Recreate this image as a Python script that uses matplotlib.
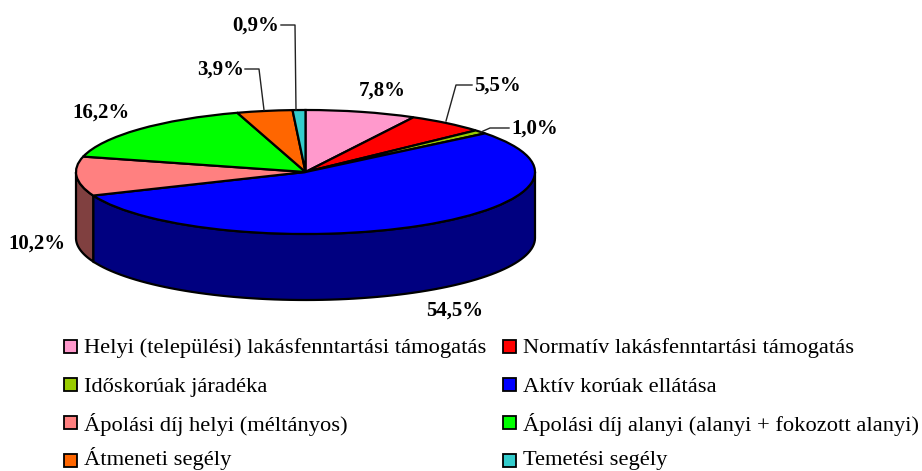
import numpy as np
import matplotlib
matplotlib.use("Agg")
import matplotlib.pyplot as plt
from matplotlib.lines import Line2D
from matplotlib.patches import Rectangle

plt.rcParams['font.family'] = ['Liberation Serif', 'DejaVu Serif']

categories = [
    "Helyi (települési) lakásfenntartási támogatás",
    "Normatív lakásfenntartási támogatás",
    "Időskorúak járadéka",
    "Aktív korúak ellátása",
    "Ápolási díj helyi (méltányos)",
    "Ápolási díj alanyi (alanyi + fokozott alanyi)",
    "Átmeneti segély",
    "Temetési segély",
]
values = [7.8, 5.5, 1.0, 54.5, 10.2, 16.2, 3.9, 0.9]
labels = ["7,8%", "5,5%", "1,0%", "54,5%", "10,2%", "16,2%", "3,9%", "0,9%"]
colors = ["#FF99CC", "#FF0000", "#99CC00", "#0000FF", "#FF8080", "#00FF00", "#FF6600", "#33CCCC"]
wall_colors = ["#804D66", "#800000", "#4D6600", "#000080", "#804040", "#008000", "#803300", "#1A6666"]

W, H = 922, 471
fig = plt.figure(figsize=(W / 100, H / 100), dpi=100)

# pie top face, in pixels: x 76-535, y 110-234
ax = fig.add_axes([76 / W, 1 - 234 / H, 459 / W, 124 / H])
ax.pie(values, colors=colors, startangle=90, counterclock=False, radius=1,
       wedgeprops=dict(edgecolor="black", linewidth=1.6, clip_on=False, zorder=3))
ax.set_aspect("auto")
ax.set_xlim(-1, 1)
ax.set_ylim(-1, 1)

# side wall, only the part facing the viewer (90-270 deg clockwise from the top)
depth = 66 / 62
edges = np.cumsum([0] + values) * 3.6
for i in range(len(values)):
    a = max(edges[i], 90)
    b = min(edges[i + 1], 270)
    if b <= a:
        continue
    t = np.radians(np.linspace(a, b, 80))
    xs = np.sin(t)
    ys = np.cos(t)
    ax.fill(np.r_[xs, xs[::-1]], np.r_[ys, ys[::-1] - depth], facecolor=wall_colors[i],
            edgecolor="black", linewidth=1.6, clip_on=False, zorder=2)


def fx(x):
    return x / W


def fy(y):
    return 1 - y / H


# data labels, centres in pixels
label_pos = [(382, 91), (497, 86), (535, 129), (455, 311), (37, 244), (101, 113), (221, 70), (256, 26)]
for s, (x, y) in zip(labels, label_pos):
    fig.text(fx(x), fy(y), s, fontsize=15, fontweight="bold", ha="center", va="center")

# leader lines
leaders = [
    [(281, 25), (295, 25), (296, 110)],
    [(245, 69), (259, 69), (264, 110)],
    [(472, 85), (456, 85), (446, 121)],
    [(509, 128), (490, 128), (481, 132)],
]
for pts in leaders:
    fig.add_artist(Line2D([fx(p[0]) for p in pts], [fy(p[1]) for p in pts], color="#222222", linewidth=1))

# legend by hand, the rows of the original are not evenly spaced
col_x = [64, 503]
row_base = [353, 392, 431, 465.5]
swatch_base = [353, 391, 429, 467]
for i, name in enumerate(categories):
    x = col_x[i % 2]
    fig.add_artist(Rectangle((fx(x), fy(swatch_base[i // 2])), 13 / W, 13 / H, transform=fig.transFigure,
                             facecolor=colors[i], edgecolor="black", linewidth=1.3))
    fig.text(fx(x + 20), fy(row_base[i // 2]), name, fontsize=16.2, ha="left", va="baseline")

fig.savefig("out.png", dpi=100)
